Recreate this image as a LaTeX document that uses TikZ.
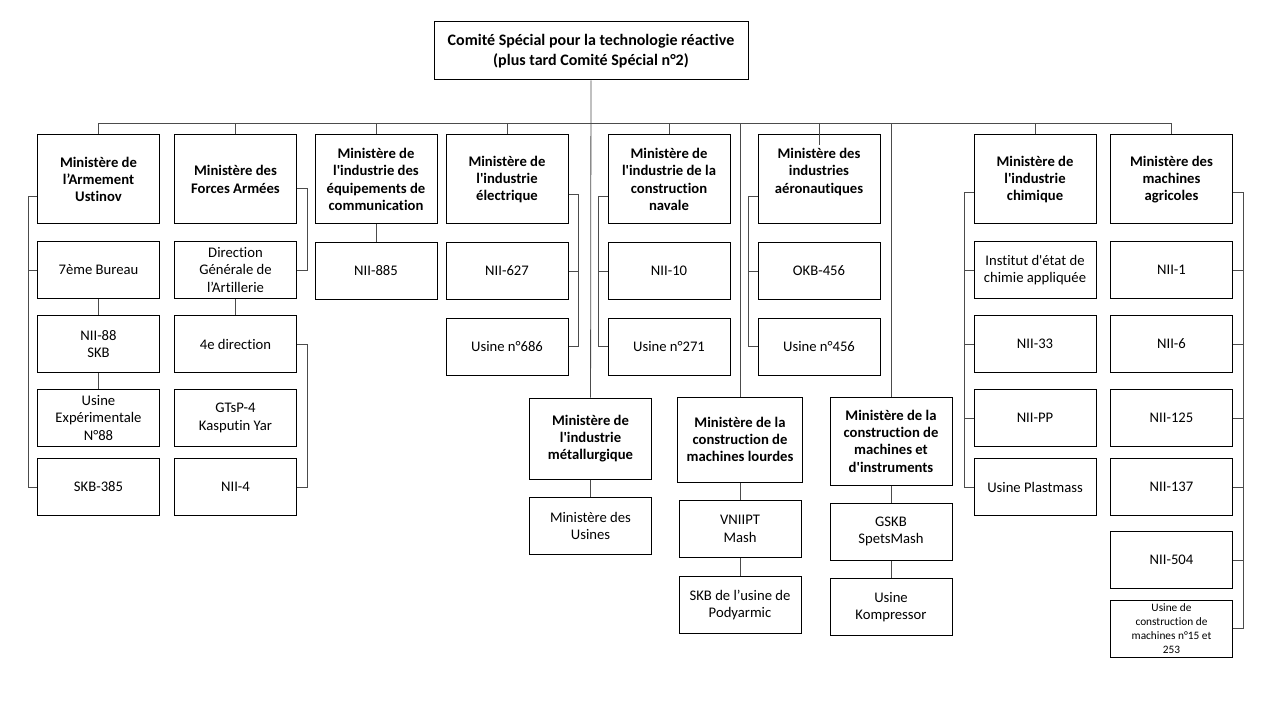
\documentclass[tikz,border=0pt]{standalone}
\usepackage{fontspec}
\setmainfont{Carlito}[Ligatures={TeXOff,NoCommon}]
\tikzset{
	orgbox/.style={draw, line width=0.75pt, align=center, inner sep=1pt,
		minimum width=91.5pt, minimum height=42.75pt, font=\fontsize{11}{13}\selectfont},
	minbox/.style={orgbox, minimum height=66.75pt, font=\fontsize{11}{13}\selectfont\bfseries},
	wire/.style={draw=black!70, line width=0.6pt}
}
\begin{document}
\begin{tikzpicture}[x=0.75pt, y=-0.75pt]
	\useasboundingbox (0,0) rectangle (1280,720);

	\node (top) [orgbox, minimum width=235.5pt, minimum height=43.5pt, font=\fontsize{12}{14.5}\selectfont\bfseries] at (591,51) {Comité Spécial pour la technologie réactive\\(plus tard Comité Spécial n°2)};

	% ministeres
	\node (arm) [minbox] at (98.5,179.5) {Ministère de\\l’Armement\\Ustinov};
	\node (forces) [minbox] at (235.5,179.5) {Ministère des\\Forces Armées};
	\node (equip) [minbox] at (376,179.5) {Ministère de\\l'industrie des\\équipements de\\communication};
	\node (elec) [minbox] at (507,179.5) {Ministère de\\l'industrie\\électrique};
	\node (naval) [minbox] at (669,179.5) {Ministère de\\l'industrie de la\\construction\\navale};
	\node (aero) [minbox] at (819,179.5) {Ministère des\\industries\\aéronautiques\\\mbox{}};
	\node (chim) [minbox] at (1035,179.5) {Ministère de\\l'industrie\\chimique};
	\node (agri) [minbox] at (1171.5,179.5) {Ministère des\\machines\\agricoles};

	\node (metal) [minbox, minimum height=60.75pt] at (590.5,438.5) {Ministère de\\l'industrie\\métallurgique};
	\node (lourd) [minbox, minimum width=93.75pt, minimum height=63.75pt] at (740,439.5) {Ministère de la\\construction de\\machines lourdes};
	\node (instr) [minbox, minimum height=66pt] at (891,441) {Ministère de la\\construction de\\machines et\\d'instruments};

	% sous-organismes
	\node (bur7) [orgbox] at (98.5,270) {7ème Bureau};
	\node (nii88) [orgbox] at (98.5,344) {NII-88\\SKB};
	\node (usexp) [orgbox] at (98.5,418) {Usine\\Expérimentale\\N°88};
	\node (skb385) [orgbox] at (98.5,487) {SKB-385};

	\node (dga) [orgbox] at (235.5,270) {Direction\\Générale de\\l’Artillerie};
	\node (dir4) [orgbox] at (235.5,344) {4e direction};
	\node (gtsp) [orgbox] at (235.5,418) {GTsP-4\\Kasputin Yar};
	\node (nii4) [orgbox] at (235.5,487) {NII-4};

	\node (nii885) [orgbox] at (376,271) {NII-885};
	\node (nii627) [orgbox] at (507,271) {NII-627};
	\node (usine686) [orgbox] at (507,346.5) {Usine n°686};
	\node (nii10) [orgbox] at (669,271) {NII-10};
	\node (usine271) [orgbox] at (669,346.5) {Usine n°271};
	\node (okb456) [orgbox] at (819,271) {OKB-456};
	\node (usine456) [orgbox] at (819,346.5) {Usine n°456};

	\node (usines) [orgbox] at (590.5,526) {Ministère des\\Usines};
	\node (vniipt) [orgbox] at (740,529) {VNIIPT\\Mash};
	\node (podyar) [orgbox] at (740,605) {SKB de l’usine de\\Podyarmic};
	\node (gskb) [orgbox] at (891,531.5) {GSKB\\SpetsMash};
	\node (kompr) [orgbox] at (891,607) {Usine\\Kompressor};

	\node (inst) [orgbox] at (1035,270) {Institut d'état de\\chimie appliquée};
	\node (nii33) [orgbox] at (1035,344) {NII-33};
	\node (niipp) [orgbox] at (1035,418) {NII-PP};
	\node (plast) [orgbox] at (1035,487) {Usine Plastmass};

	\node (nii1) [orgbox] at (1171.5,270) {NII-1};
	\node (nii6) [orgbox] at (1171.5,344) {NII-6};
	\node (nii125) [orgbox] at (1171.5,418) {NII-125};
	\node (nii137) [orgbox] at (1171.5,487) {NII-137};
	\node (nii504) [orgbox] at (1171.5,560) {NII-504};
	\node (usconst) [orgbox, font=\fontsize{8.5}{10.5}\selectfont] at (1171.5,628.5) {Usine de\\construction de\\machines n°15 et\\253};

	% bus
	\coordinate (busL) at (98.5,123);
	\coordinate (busR) at (1171.5,123);
	\draw [wire] (busL) -- (busR);
	\draw [wire] (top) -- (metal);
	\draw [wire] (arm.north) -- (arm.north |- busL) (forces.north) -- (forces.north |- busL)
		(equip.north) -- (equip.north |- busL) (elec.north) -- (elec.north |- busL)
		(naval.north) -- (naval.north |- busL) (chim.north) -- (chim.north |- busL)
		(agri.north) -- (agri.north |- busL) (lourd.north) -- (lourd.north |- busL)
		(instr.north) -- (instr.north |- busL);
	\draw [wire] (aero.north |- busL) -- ([yshift=-8pt]aero.north);

	\draw [wire] (bur7) edge (nii88) (nii88) edge (usexp) (dga) edge (dir4) (equip) edge (nii885);
	\draw [wire] (metal) edge (usines) (lourd) edge (vniipt) (vniipt) edge (podyar);
	\draw [wire] (instr) edge (gskb) (gskb) edge (kompr);

	% crochets
	\draw [wire] ([yshift=-13pt]arm.west) -- ++(-9,0) |- (skb385.west);
	\draw [wire] (bur7.west) -- ++(-9,0);
	\draw [wire] ([yshift=-6.4pt]forces.east) -- ++(10,0) |- (dga.east);
	\draw [wire] (dir4.east) -- ++(10,0) |- (nii4.east);
	\draw [wire] ([yshift=-10.9pt]elec.east) -- ++(10,0) |- (usine686.east);
	\draw [wire] (nii627.east) -- ++(10,0);
	\draw [wire] ([yshift=-13pt]naval.west) -- ++(-9,0) |- (usine271.west);
	\draw [wire] (nii10.west) -- ++(-9,0);
	\draw [wire] ([yshift=-13pt]aero.west) -- ++(-9,0) |- (usine456.west);
	\draw [wire] (okb456.west) -- ++(-9,0);
	\draw [wire] ([yshift=-10pt]chim.west) -- ++(-9,0) |- (plast.west);
	\draw [wire] (inst.west) -- ++(-9,0) (nii33.west) -- ++(-9,0) (niipp.west) -- ++(-9,0);
	\draw [wire] ([yshift=-10pt]agri.east) -- ++(10,0) |- (usconst.east);
	\draw [wire] (nii1.east) -- ++(10,0) (nii6.east) -- ++(10,0) (nii125.east) -- ++(10,0)
		(nii137.east) -- ++(10,0) (nii504.east) -- ++(10,0);
\end{tikzpicture}
\end{document}
